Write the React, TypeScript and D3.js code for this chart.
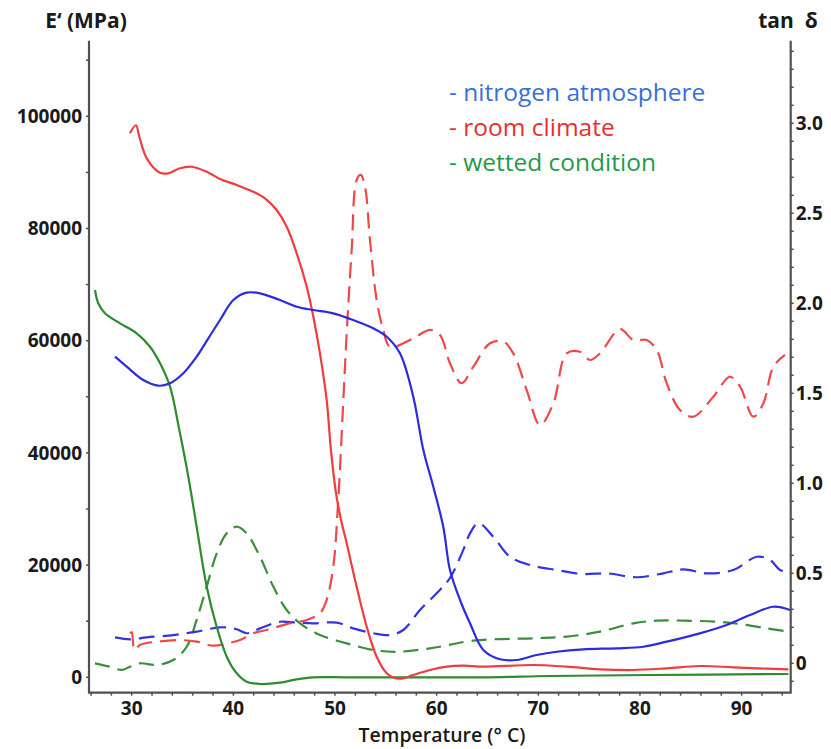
import { useEffect, useRef } from 'react';
import * as d3 from 'd3';

// [temperature °C, E' MPa]
const nitrogenModulus = [
  [28.36, 57150], [29.51, 55370], [31.14, 52990], [32.62, 51980], [33.77, 52410],
  [35.08, 54190], [36.39, 57150], [37.54, 60430], [38.69, 63690], [40.0, 67250],
  [41.31, 68560], [42.62, 68450], [44.59, 67250], [46.23, 66060], [47.87, 65470],
  [49.83, 64880], [51.8, 63690], [53.77, 62210], [55.09, 60710], [56.39, 57750],
  [57.7, 50020], [58.69, 40520], [59.67, 33970], [60.65, 26840], [61.31, 19130],
  [62.3, 13780], [63.28, 9630], [64.59, 4870], [66.23, 3210], [67.88, 3080],
  [69.84, 3970], [71.81, 4560], [74.43, 4990], [77.71, 5170], [80.33, 5450],
  [82.63, 6350], [85.9, 7840], [88.53, 9320], [90.83, 11100], [93.12, 12580], [94.76, 12000],
];

const roomModulus = [
  [29.83, 96970], [30.42, 98400], [30.75, 96360], [31.48, 92510], [32.78, 89950],
  [33.6, 89840], [34.75, 90730], [35.9, 91010], [37.38, 90120], [38.69, 88820],
  [40.33, 87750], [41.96, 86560], [43.11, 85380], [44.26, 83300], [45.25, 80320],
  [46.23, 75580], [47.22, 69620], [47.87, 64280], [48.52, 57750], [49.18, 49430],
  [49.6, 40520], [50.1, 32800], [50.6, 28000], [51.15, 23890], [52.13, 16150],
  [53.12, 9020], [54.1, 3670], [55.09, 710], [55.9, -180], [56.72, -180],
  [57.7, 410], [59.35, 1300], [61.0, 1890], [62.62, 2070], [64.59, 1890],
  [69.5, 2190], [72.8, 1890], [76.07, 1430], [79.35, 1300], [82.63, 1600],
  [85.9, 2010], [89.18, 1780], [92.47, 1530], [94.6, 1430],
];

const wettedModulus = [
  [26.39, 69040], [26.71, 66670], [27.37, 64880], [28.85, 63100], [30.49, 61320],
  [31.8, 58930], [32.79, 55970], [33.77, 51800], [34.75, 43490], [35.57, 35760],
  [36.39, 26840], [37.38, 16150], [38.36, 9020], [39.35, 3670], [40.33, 710],
  [41.31, -780], [42.62, -1190], [44.59, -960], [46.23, -360], [47.87, 0],
  [51.15, 0], [64.26, 0], [71.15, 230], [80.99, 410], [94.6, 590],
];

// [temperature °C, tan δ]
const nitrogenTan = [
  [28.36, 0.144], [29.83, 0.133], [31.48, 0.144], [34.09, 0.157], [36.39, 0.176],
  [38.69, 0.2], [40.33, 0.189], [41.31, 0.167], [42.62, 0.194], [44.59, 0.231],
  [46.23, 0.226], [47.87, 0.222], [50.17, 0.226], [51.8, 0.194], [53.77, 0.167],
  [55.41, 0.157], [56.72, 0.185], [58.36, 0.296], [60.0, 0.389], [61.31, 0.474],
  [62.62, 0.63], [63.28, 0.722], [64.1, 0.778], [65.57, 0.703], [67.21, 0.592],
  [69.18, 0.546], [71.81, 0.518], [74.43, 0.496], [76.73, 0.5], [79.68, 0.478],
  [82.3, 0.5], [84.27, 0.522], [86.57, 0.5], [89.18, 0.518], [91.49, 0.592],
  [92.8, 0.574], [93.78, 0.518], [94.6, 0.509],
];

const roomTan = [
  [29.83, 0.167], [30.0, 0.172], [30.28, 0.074], [30.82, 0.102], [32.46, 0.12],
  [34.75, 0.129], [36.39, 0.12], [38.03, 0.098], [39.67, 0.114], [40.65, 0.129],
  [41.96, 0.167], [43.28, 0.185], [45.25, 0.218], [47.22, 0.241], [48.52, 0.278],
  [49.18, 0.352], [49.83, 0.537], [50.32, 0.907], [50.82, 1.463], [51.15, 1.833],
  [51.64, 2.296], [52.13, 2.685], [52.53, 2.713], [52.95, 2.648], [53.44, 2.352],
  [54.1, 2.018], [54.75, 1.852], [55.41, 1.759], [57.7, 1.806], [59.35, 1.852],
  [60.33, 1.824], [61.31, 1.667], [62.46, 1.556], [63.61, 1.648], [65.25, 1.778],
  [66.56, 1.787], [67.54, 1.722], [68.86, 1.518], [70.17, 1.324], [71.48, 1.444],
  [72.79, 1.722], [74.1, 1.731], [75.09, 1.685], [76.07, 1.722], [78.04, 1.856],
  [79.35, 1.796], [80.66, 1.796], [81.65, 1.741], [82.63, 1.556], [83.94, 1.407],
  [85.25, 1.37], [87.22, 1.481], [88.86, 1.592], [89.85, 1.537], [91.15, 1.37],
  [92.14, 1.444], [93.12, 1.648], [94.27, 1.713],
];

const wettedTan = [
  [26.39, 0.0], [27.87, -0.019], [29.02, -0.037], [29.83, -0.019], [30.82, 0.0],
  [32.46, -0.009], [34.09, 0.018], [35.41, 0.092], [36.39, 0.241], [37.38, 0.426],
  [38.36, 0.611], [39.35, 0.722], [40.33, 0.759], [41.31, 0.722], [42.62, 0.592],
  [43.93, 0.426], [45.25, 0.296], [46.56, 0.222], [48.52, 0.157], [51.15, 0.111],
  [53.77, 0.074], [56.07, 0.064], [59.35, 0.083], [63.61, 0.126], [69.51, 0.139],
  [72.79, 0.148], [76.07, 0.176], [79.35, 0.222], [81.65, 0.237], [84.27, 0.237],
  [87.55, 0.231], [89.84, 0.218], [92.47, 0.194], [94.6, 0.176],
];

const xTicks = [30, 40, 50, 60, 70, 80, 90];
const leftTicks = [0, 20000, 40000, 60000, 80000, 100000];
const rightTicks = [0, 0.5, 1.0, 1.5, 2.0, 2.5, 3.0];
const rightTickLabels = ['0', '0.5', '1.0', '1.5', '2.0', '2.5', '3.0'];
const legendItems = [
  { label: '- nitrogen atmosphere', color: '#3a6fd8' },
  { label: '- room climate', color: '#e8302f' },
  { label: '- wetted condition', color: '#1f9a48' },
];

export default function App() {
  const svgRef = useRef(null);

  useEffect(() => {
    const W = 831, H = 749;
    const left = 89, right = 790.7, top = 40.7, bottom = 692.7;
    const font = '"Open Sans", sans-serif';

    const svg = d3.select(svgRef.current);
    svg.selectAll('*').remove();
    svg.attr('width', W).attr('height', H);

    const x = d3.scaleLinear().domain([30, 90]).range([131.7, 741.6]);
    const yE = d3.scaleLinear().domain([0, 100000]).range([677.3, 116.3]);
    const yT = d3.scaleLinear().domain([0, 3]).range([663.3, 123.3]);

    // curves
    const lineE = d3.line().x(d => x(d[0])).y(d => yE(d[1])).curve(d3.curveCatmullRom);
    const lineT = d3.line().x(d => x(d[0])).y(d => yT(d[1])).curve(d3.curveCatmullRom);

    const series = [
      { data: wettedTan, line: lineT, color: '#3a8f3a', dash: '15,8' },
      { data: nitrogenTan, line: lineT, color: '#3333e0', dash: '16,8' },
      { data: roomTan, line: lineT, color: '#f04848', dash: '16,8' },
      { data: wettedModulus, line: lineE, color: '#2e8b2e', dash: null },
      { data: roomModulus, line: lineE, color: '#f03c3c', dash: null },
      { data: nitrogenModulus, line: lineE, color: '#2b2bdf', dash: null },
    ];

    series.forEach(s => {
      svg.append('path')
        .datum(s.data)
        .attr('fill', 'none')
        .attr('stroke', s.color)
        .attr('stroke-width', 2.2)
        .attr('stroke-dasharray', s.dash)
        .attr('d', s.line);
    });

    // frame
    const axisColor = '#505050';
    svg.append('path')
      .attr('d', `M${left},${top}V${bottom}H${right}V${top}`)
      .attr('fill', 'none')
      .attr('stroke', axisColor)
      .attr('stroke-width', 2.2);

    const tickText = (sel) => sel
      .style('font-family', font)
      .style('font-weight', 700)
      .style('font-size', '19px')
      .attr('fill', '#1a1a1a');

    // left ticks
    d3.range(0, 120000, 10000).forEach(v => {
      svg.append('line')
        .attr('x1', left - 3).attr('x2', left)
        .attr('y1', yE(v)).attr('y2', yE(v))
        .attr('stroke', axisColor).attr('stroke-width', 1.5);
    });
    leftTicks.forEach(v => {
      svg.append('text')
        .attr('x', left - 7)
        .attr('y', yE(v))
        .attr('dy', '0.35em')
        .attr('text-anchor', 'end')
        .call(tickText)
        .text(v);
    });

    // right ticks
    d3.range(-1, 35).map(i => i / 10).forEach(v => {
      svg.append('line')
        .attr('x1', right).attr('x2', right + 3)
        .attr('y1', yT(v)).attr('y2', yT(v))
        .attr('stroke', axisColor).attr('stroke-width', 1.5);
    });
    rightTicks.forEach((v, i) => {
      svg.append('text')
        .attr('x', right + 5)
        .attr('y', yT(v))
        .attr('dy', '0.35em')
        .call(tickText)
        .text(rightTickLabels[i]);
    });

    // bottom ticks
    d3.range(26, 96, 2).forEach(v => {
      svg.append('line')
        .attr('x1', x(v)).attr('x2', x(v))
        .attr('y1', bottom).attr('y2', bottom + 3)
        .attr('stroke', axisColor).attr('stroke-width', 1.5);
    });
    xTicks.forEach(v => {
      svg.append('text')
        .attr('x', x(v))
        .attr('y', 715)
        .attr('text-anchor', 'middle')
        .call(tickText)
        .text(v);
    });

    // axis titles
    svg.append('text')
      .attr('x', 442).attr('y', 742)
      .attr('text-anchor', 'middle')
      .style('font-family', font)
      .style('font-weight', 600)
      .style('font-size', '19.5px')
      .attr('fill', '#1a1a1a')
      .text('Temperature (° C)');

    svg.append('text')
      .attr('x', 86).attr('y', 28)
      .attr('text-anchor', 'middle')
      .style('font-family', font)
      .style('font-weight', 700)
      .style('font-size', '21px')
      .attr('fill', '#1a1a1a')
      .text('E‘ (MPa)');

    svg.append('text')
      .attr('x', 788).attr('y', 28)
      .attr('text-anchor', 'middle')
      .style('font-family', font)
      .style('font-weight', 700)
      .style('font-size', '21px')
      .attr('fill', '#1a1a1a')
      .attr('xml:space', 'preserve')
      .text('tan  δ');

    // legend
    legendItems.forEach((item, i) => {
      svg.append('text')
        .attr('x', 449)
        .attr('y', 92 + i * 35)
        .attr('dy', '0.35em')
        .style('font-family', font)
        .style('font-size', '24.5px')
        .attr('fill', item.color)
        .text(item.label);
    });
  }, []);

  return (
    <div style={{ position: 'absolute', left: 0, top: 0 }}>
      <svg ref={svgRef}></svg>
    </div>
  );
}
